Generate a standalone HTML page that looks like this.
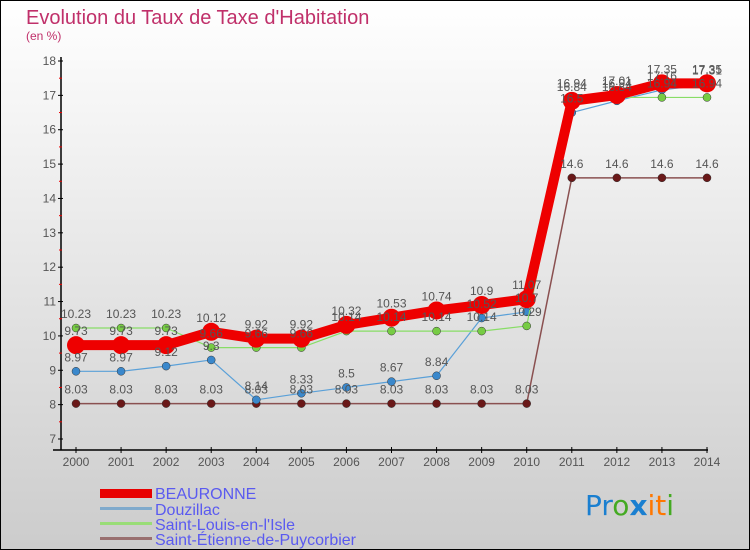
<!DOCTYPE html>
<html><head><meta charset="utf-8"><style>
html,body{margin:0;padding:0}
body{width:750px;height:550px;overflow:hidden;font-family:"Liberation Sans",sans-serif}
</style></head><body>
<svg id="chart" width="750" height="550" xmlns="http://www.w3.org/2000/svg" style="display:block">
<defs><linearGradient id="bg" x1="0" y1="0" x2="0" y2="1"><stop offset="0" stop-color="#ffffff"/><stop offset="1" stop-color="#cccccc"/></linearGradient></defs>
<rect x="0.5" y="0.5" width="749" height="549" fill="url(#bg)" stroke="#000"/>
<text x="26" y="24" font-size="20" fill="#c0306a">Evolution du Taux de Taxe d'Habitation</text>
<text x="26" y="40" font-size="12" fill="#c0306a">(en %)</text>
<g id="axes"></g><g id="series"></g><g id="labels"></g>
<g font-size="16" fill="#5a5af0">
<rect x="100" y="489" width="52" height="9" fill="#e80000"/>
<text x="155" y="499">BEAURONNE</text>
<rect x="100" y="507" width="52" height="3" fill="#80aacc"/>
<text x="155" y="515">Douzillac</text>
<rect x="100" y="522" width="52" height="3" fill="#99dd77"/>
<text x="155" y="530">Saint-Louis-en-l'Isle</text>
<rect x="100" y="537" width="52" height="3" fill="#997070"/>
<text x="155" y="545">Saint-Étienne-de-Puycorbier</text>
</g>
<g font-size="28" font-family="'DejaVu Sans',sans-serif">
<text x="585" y="515"><tspan fill="#1a7fd0">Pr</tspan><tspan fill="#44aa22">o</tspan><tspan fill="#1a7fd0" font-weight="bold">x</tspan><tspan fill="#ff7700">it</tspan><tspan fill="#44aa22">i</tspan></text>
</g>
</svg>
<script>
const years=[2000,2001,2002,2003,2004,2005,2006,2007,2008,2009,2010,2011,2012,2013,2014];
const beauronne=[9.73,9.73,9.73,10.12,9.92,9.92,10.32,10.53,10.74,10.9,11.07,16.84,17.01,17.35,17.35];
const douzillac=[8.97,8.97,9.12,9.3,8.14,8.33,8.5,8.67,8.84,10.52,10.7,16.5,16.84,17.16,17.31];
const saintLouis=[10.23,10.23,10.23,9.66,9.66,9.66,10.14,10.14,10.14,10.14,10.29,16.94,16.94,16.94,16.94];
const saintEtienne=[8.03,8.03,8.03,8.03,8.03,8.03,8.03,8.03,8.03,8.03,8.03,14.6,14.6,14.6,14.6];
const yTicks=[7,8,9,10,11,12,13,14,15,16,17,18];
const NS="http://www.w3.org/2000/svg";
const xS=i=>76+i*(707-76)/14;
const yS=v=>439-(v-7)*(439-61)/11;
function mk(tag,attrs,parent){const e=document.createElementNS(NS,tag);for(const k in attrs)e.setAttribute(k,attrs[k]);parent.appendChild(e);return e;}
const axes=document.getElementById('axes'),ser=document.getElementById('series'),lab=document.getElementById('labels');
let e=mk('line',{x1:61,y1:57,x2:61,y2:450,stroke:'#000','stroke-width':1.5},axes);


e=mk('line',{x1:53,y1:450,x2:708,y2:450,stroke:'#000','stroke-width':1.5},axes);


yTicks.forEach(v=>{
 mk('line',{x1:58,y1:yS(v),x2:63,y2:yS(v),stroke:'#000'},axes);
 if(v<18)mk('line',{x1:59,y1:yS(v+0.5),x2:62,y2:yS(v+0.5),stroke:'#e00'},axes);
 const t=mk('text',{x:56,y:yS(v)+4,'font-size':12,fill:'#555','text-anchor':'end'},axes);t.textContent=v;
 
 
});
years.forEach((y,i)=>{
 mk('line',{x1:xS(i),y1:447,x2:xS(i),y2:453,stroke:'#000'},axes);
 const t=mk('text',{x:xS(i),y:466,'font-size':12,fill:'#555','text-anchor':'middle'},axes);t.textContent=y;
 
 
});
function series(data,name,color,lw,r,mcol){
 const p=mk('polyline',{points:data.map((v,i)=>xS(i)+','+yS(v)).join(' '),fill:'none',stroke:color,'stroke-width':lw,'stroke-linejoin':'round'},ser);
 
 
 data.forEach((v,i)=>{
  const c=mk('circle',{cx:xS(i),cy:yS(v),r:r,fill:mcol,stroke:'#333','stroke-width':r>5?0:0.5},ser);
  
  
  const t=mk('text',{x:xS(i),y:yS(v)-10,'font-size':12,fill:'#555','text-anchor':'middle'},lab);
  t.textContent=v;
  
  
 });
}
series(saintEtienne,'saint-etienne','#8a5050',1.5,4,'#6a1818');
series(douzillac,'douzillac','#5aa0d8',1.2,4,'#3a88cc');
series(saintLouis,'saint-louis','#88dd66',1.2,4,'#77cc44');
series(beauronne,'beauronne','#ee0000',10,9,'#ee0000');
</script>
</body></html>
